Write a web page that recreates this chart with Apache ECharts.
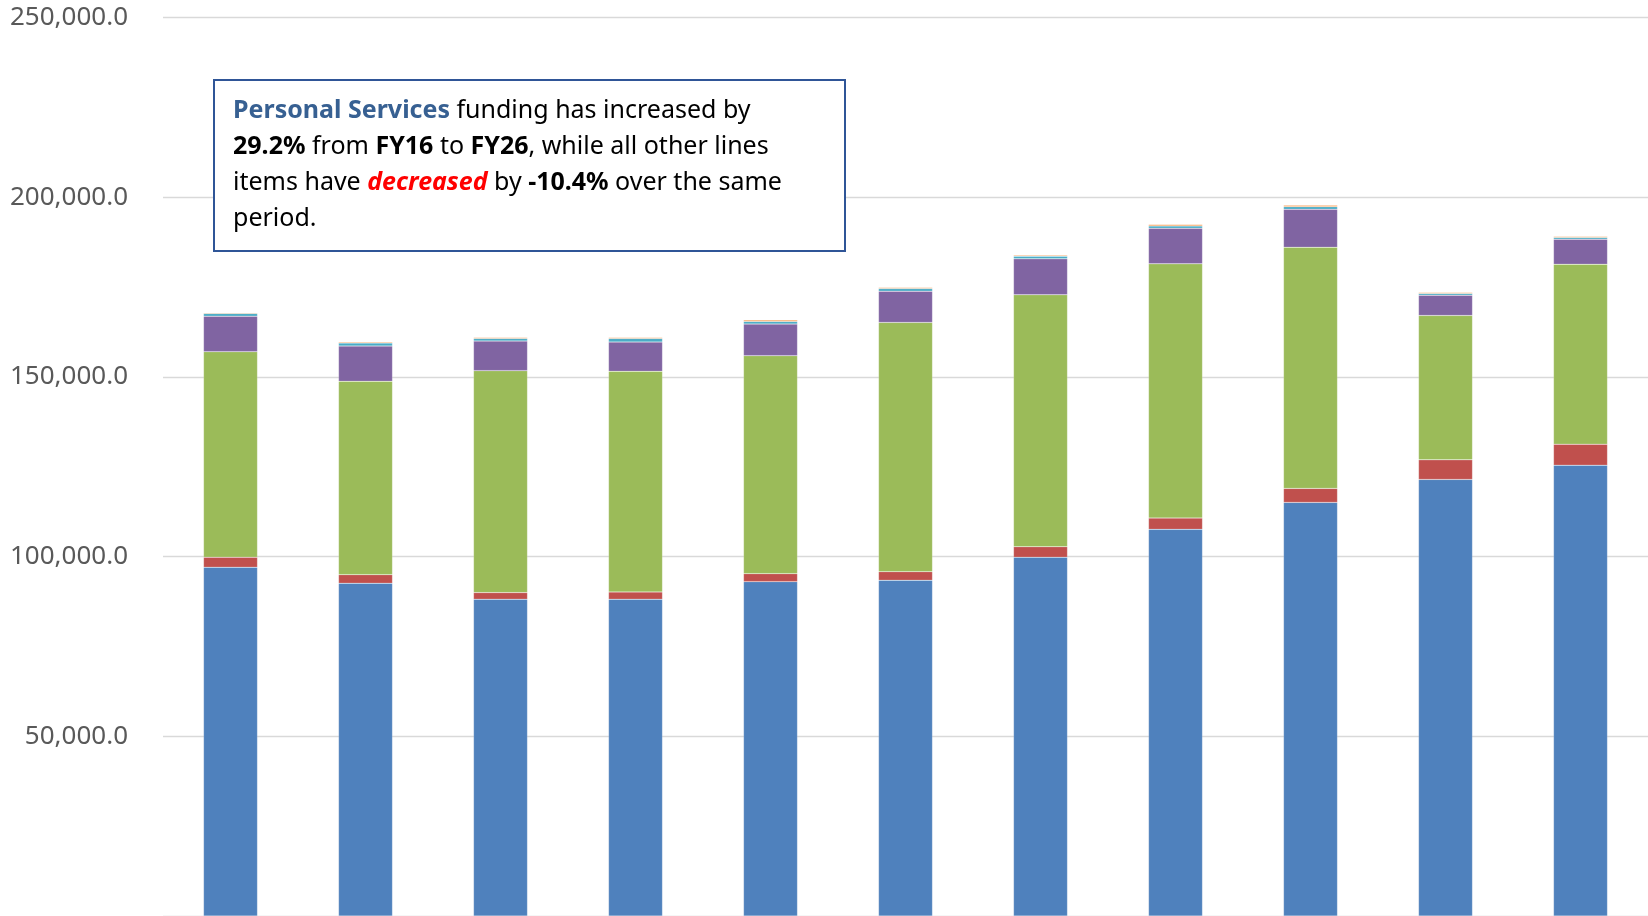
<!DOCTYPE html>
<html>
<head>
<meta charset="utf-8">
<title>Funding by line item</title>
<script src="https://cdn.jsdelivr.net/npm/echarts@6/dist/echarts.min.js"></script>
<style>
  html, body { margin: 0; padding: 0; background: #fff; }
  #chart { width: 1648px; height: 916px; }
</style>
</head>
<body>
<div id="chart"></div>
<script>
// fiscal years (axis labels sit below the visible area)
const years = ['FY16', 'FY17', 'FY18', 'FY19', 'FY20', 'FY21', 'FY22', 'FY23', 'FY24', 'FY25', 'FY26'];

// stacked values, bottom to top
const personalServices = [97056, 92611, 88167, 88167, 93056, 93444, 99833, 107611, 115111, 121500, 125472];
const lineItem2 = [2778, 2389, 1833, 2028, 2222, 2389, 2944, 3139, 3889, 5444, 5833];
const lineItem3 = [57222, 53806, 61778, 61389, 60667, 69361, 70111, 70750, 67111, 40194, 50083];
const lineItem4 = [9889, 9806, 8222, 8139, 8778, 8694, 10000, 9889, 10556, 5639, 6944];
const lineItem5 = [750, 833, 750, 1028, 750, 750, 722, 667, 750, 472, 472];
const lineItem6 = [200, 278, 278, 278, 400, 278, 278, 361, 361, 278, 278];

const yTicks = [0, 50000, 100000, 150000, 200000, 250000];

const fmt = v => {
  const s = v.toFixed(1);
  const [i, d] = s.split('.');
  return i.replace(/\B(?=(\d{3})+(?!\d))/g, ',') + '.' + d;
};

const chart = echarts.init(document.getElementById('chart'));

const mkSeries = (name, data, color) => ({
  name: name,
  type: 'bar',
  stack: 'total',
  data: data,
  barCategoryGap: '60%',
  itemStyle: { color: color, borderColor: 'rgba(255,255,255,0.35)', borderWidth: 0.5 },
  animation: false
});

const FONT = "'Noto Sans', sans-serif";
const BOX_FS = 25;

chart.setOption({
  animation: false,
  grid: { left: 163, right: 0, top: 17.7, height: 900 },
  xAxis: {
    type: 'category',
    data: years,
    axisLine: { show: false },
    axisTick: { show: false },
    axisLabel: { show: false }
  },
  yAxis: {
    type: 'value',
    min: yTicks[0],
    max: yTicks[yTicks.length - 1],
    interval: 50000,
    axisLine: { show: false },
    axisTick: { show: false },
    splitLine: { lineStyle: { color: '#d9d9d9', width: 1.3 } },
    axisLabel: {
      showMinLabel: false,
      margin: 35,
      color: '#595959',
      fontSize: 26,
      fontFamily: FONT,
      formatter: fmt
    }
  },
  series: [
    mkSeries('Personal Services', personalServices, '#4f81bd'),
    mkSeries('Line item 2', lineItem2, '#c0504d'),
    mkSeries('Line item 3', lineItem3, '#9bbb59'),
    mkSeries('Line item 4', lineItem4, '#8064a2'),
    mkSeries('Line item 5', lineItem5, '#4bacc6'),
    mkSeries('Line item 6', lineItem6, '#f79646')
  ],
  graphic: [
    {
      type: 'rect',
      left: 213,
      top: 79,
      shape: { width: 631, height: 171 },
      style: { fill: '#fff', stroke: '#2f5597', lineWidth: 2 },
      z: 100
    },
    {
      type: 'text',
      left: 233,
      top: 93,
      z: 101,
      style: {
        text: [
          '{ps|Personal Services} funding has increased by',
          '{b|29.2%} from {b|FY16} to {b|FY26}, while all other lines',
          'items have {dec|decreased} by {b|-10.4%} over the same',
          'period.'
        ].join('\n'),
        font: BOX_FS + 'px ' + FONT,
        fill: '#000',
        lineHeight: 36,
        rich: {
          ps: { fontWeight: 'bold', fill: '#376092', fontSize: BOX_FS, fontFamily: FONT, lineHeight: 36 },
          b: { fontWeight: 'bold', fill: '#000', fontSize: BOX_FS, fontFamily: FONT, lineHeight: 36 },
          dec: { fontWeight: 'bold', fontStyle: 'italic', fill: '#ff0000', fontSize: BOX_FS, fontFamily: FONT, lineHeight: 36 }
        }
      }
    }
  ]
});
</script>
</body>
</html>
